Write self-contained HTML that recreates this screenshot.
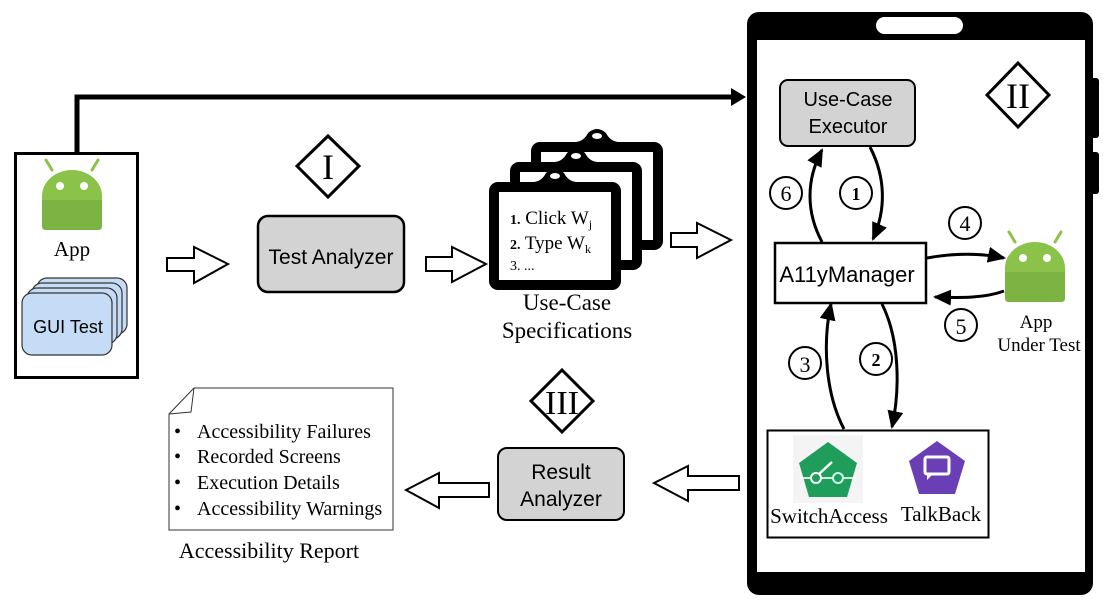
<!DOCTYPE html>
<html><head><meta charset="utf-8"><style>
html,body{margin:0;padding:0;background:#fff;}
svg{display:block;}
.sans{font-family:"Liberation Sans",sans-serif;}
.serif{font-family:"Liberation Serif",serif;}
</style></head><body>
<svg width="1105" height="609" viewBox="0 0 1105 609" xmlns="http://www.w3.org/2000/svg">
<defs>
<marker id="ah2" markerWidth="18" markerHeight="16" refX="16" refY="8" orient="auto" markerUnits="userSpaceOnUse" viewBox="0 0 18 16">
<path d="M0,0 L18,8 L0,16 z" fill="#000"/></marker>
<g id="droid">
<line x1="-20" y1="-4" x2="-26" y2="-14" stroke="#8bc34a" stroke-width="3" stroke-linecap="round"/>
<line x1="20" y1="-4" x2="26" y2="-14" stroke="#8bc34a" stroke-width="3" stroke-linecap="round"/>
<path d="M-30,22 A30,26 0 0 1 30,22 L30,52 Q30,56 26,56 L-26,56 Q-30,56 -30,52 Z" fill="#8bc34a"/>
<path d="M-30,26 L30,26 L30,52 Q30,56 26,56 L-26,56 Q-30,56 -30,52 Z" fill="#7cb342"/>
<circle cx="-12" cy="12" r="4" fill="#fff"/><circle cx="12" cy="12" r="4" fill="#fff"/>
</g>
<g id="clip">
<rect x="0" y="0" width="122" height="98" rx="4" fill="#fff" stroke="#000" stroke-width="10"/>
<path d="M40,-5 Q48,-6 52,-14 Q61,-22 70,-14 Q74,-6 82,-5 Z" fill="#000"/>
<ellipse cx="61" cy="-11" rx="5" ry="3" fill="#fff"/>
</g>
</defs>

<polyline points="77,153 77,97 733,97" fill="none" stroke="#000" stroke-width="5"/>
<path d="M731,88 L746,97 L731,106 Z" fill="#000"/>

<rect x="15.5" y="153.5" width="122" height="224" fill="#fff" stroke="#000" stroke-width="3"/>
<use href="#droid" transform="translate(72,174)"/>
<text x="72" y="256" class="serif" font-size="21" text-anchor="middle">App</text>
<rect x="37" y="278" width="90" height="56" rx="10" fill="#c6dbf5" stroke="#333" stroke-width="1.2"/>
<rect x="32" y="283" width="90" height="56" rx="10" fill="#c6dbf5" stroke="#333" stroke-width="1.2"/>
<rect x="27" y="288" width="90" height="56" rx="10" fill="#c6dbf5" stroke="#333" stroke-width="1.2"/>
<rect x="22" y="293" width="90" height="62" rx="10" fill="#c6dbf5" stroke="#333" stroke-width="1.2"/>
<text x="68" y="333" class="sans" font-size="18" text-anchor="middle">GUI Test</text>

<g fill="#fff" stroke="#000" stroke-width="2">
<path d="M167,258 L194,258 L194,247 L228,264 L194,283 L194,271 L167,271 Z"/>
<path d="M426,257 L452,257 L452,247 L486,264 L452,282 L452,271 L426,271 Z"/>
<path d="M671,233 L697,233 L697,223 L731,240 L697,258 L697,247 L671,247 Z"/>
<path d="M739,476 L688,476 L688,466 L654,483 L688,501 L688,490 L739,490 Z"/>
<path d="M489,483 L439,483 L439,473 L406,490 L439,508 L439,497 L489,497 Z"/>
</g>

<path d="M328,136 L359,166 L328,197 L297,166 Z" fill="#fff" stroke="#000" stroke-width="3"/>
<text x="328" y="179" class="serif" font-size="36" text-anchor="middle">I</text>

<rect x="258" y="216" width="146" height="76" rx="10" fill="#d3d3d3" stroke="#000" stroke-width="2.5"/>
<text x="331" y="264" class="sans" font-size="21" text-anchor="middle">Test Analyzer</text>

<use href="#clip" transform="translate(536,147)"/>
<use href="#clip" transform="translate(515,167)"/>
<use href="#clip" transform="translate(494,187)"/>
<g class="serif" font-size="19">
<text x="510" y="224"><tspan font-size="14" font-weight="bold">1.</tspan> Click W<tspan font-size="12" dy="4">j</tspan></text>
<text x="510" y="249"><tspan font-size="14" font-weight="bold">2.</tspan> Type W<tspan font-size="12" dy="4">k</tspan></text>
<text x="510" y="270" font-size="14">3.  ...</text>
</g>
<text x="567" y="310" class="serif" font-size="23" text-anchor="middle">Use-Case</text>
<text x="567" y="338" class="serif" font-size="23" text-anchor="middle">Specifications</text>

<rect x="1088" y="78" width="11" height="60" rx="3" fill="#000"/>
<rect x="1088" y="152" width="11" height="42" rx="3" fill="#000"/>
<rect x="747" y="12" width="346" height="583" rx="12" fill="#000"/>
<rect x="757" y="40" width="328" height="532" fill="#fff"/>
<rect x="876" y="17" width="87" height="17" rx="8.5" fill="#fff"/>

<rect x="780" y="80" width="135" height="66" rx="8" fill="#d3d3d3" stroke="#000" stroke-width="2"/>
<text x="848" y="106" class="sans" font-size="20" text-anchor="middle">Use-Case</text>
<text x="848" y="133" class="sans" font-size="20" text-anchor="middle">Executor</text>

<path d="M1018,63 L1049,95 L1018,127 L987,95 Z" fill="#fff" stroke="#000" stroke-width="3"/>
<text x="1018" y="108" class="serif" font-size="36" text-anchor="middle">II</text>

<rect x="775" y="243" width="151" height="60" fill="#fff" stroke="#000" stroke-width="2.5"/>
<text x="847" y="282" class="sans" font-size="22" text-anchor="middle">A11yManager</text>

<use href="#droid" transform="translate(1035,246)"/>
<text x="1036" y="328" class="serif" font-size="19" text-anchor="middle">App</text>
<text x="1039" y="351" class="serif" font-size="19" text-anchor="middle">Under Test</text>

<rect x="767.5" y="430.5" width="221" height="107" fill="#fff" stroke="#000" stroke-width="2"/>
<rect x="793" y="435" width="70" height="68" fill="#f4f4f4"/>
<path d="M828,442 L857,463 L847,497 L809,497 L799,463 Z" fill="#1e9e5a"/>
<line x1="800" y1="478" x2="856" y2="478" stroke="#fff" stroke-width="2" opacity="0.8"/>
<circle cx="816" cy="478" r="5" fill="#1e9e5a" stroke="#fff" stroke-width="2"/>
<circle cx="838" cy="478" r="5" fill="#1e9e5a" stroke="#cfe" stroke-width="2"/>
<line x1="819" y1="474" x2="832" y2="462" stroke="#fff" stroke-width="2.5"/>
<path d="M937,441 L965,461 L955,494 L919,494 L909,461 Z" fill="#6a3fb5"/>
<rect x="925" y="457" width="24" height="17" rx="2" fill="none" stroke="#fff" stroke-width="3"/>
<path d="M927,473 L927,480 L933,474 Z" fill="#fff"/>
<text x="829" y="523" class="serif" font-size="21" text-anchor="middle">SwitchAccess</text>
<text x="941" y="521" class="serif" font-size="21" text-anchor="middle">TalkBack</text>

<g fill="none" stroke="#000" stroke-width="3">
<path d="M822,242 C806,212 806,180 822,150" marker-end="url(#ah2)"/>
<path d="M870,147 C886,178 886,210 873,239" marker-end="url(#ah2)"/>
<path d="M927,258 C955,253 980,253 1004,258" marker-end="url(#ah2)"/>
<path d="M1004,291 C985,298 962,298 935,297" marker-end="url(#ah2)"/>
<path d="M844,429 C826,395 822,345 831,304" marker-end="url(#ah2)"/>
<path d="M882,304 C900,340 900,390 892,427" marker-end="url(#ah2)"/>
</g>
<g class="serif" font-size="22" text-anchor="middle">
<circle cx="786" cy="193" r="16" fill="#fff" stroke="#000" stroke-width="2"/><text x="786" y="201">6</text>
<circle cx="856" cy="193" r="16" fill="#fff" stroke="#000" stroke-width="2"/><text x="856" y="200" font-size="18" font-weight="bold">1</text>
<circle cx="965" cy="223" r="16" fill="#fff" stroke="#000" stroke-width="2"/><text x="965" y="231">4</text>
<circle cx="961" cy="325" r="16" fill="#fff" stroke="#000" stroke-width="2"/><text x="961" y="334">5</text>
<circle cx="805" cy="363" r="16" fill="#fff" stroke="#000" stroke-width="2"/><text x="805" y="372">3</text>
<circle cx="876" cy="359" r="16" fill="#fff" stroke="#000" stroke-width="2"/><text x="876" y="366" font-size="18" font-weight="bold">2</text>
</g>

<path d="M562,370 L593,401 L562,432 L531,401 Z" fill="#fff" stroke="#000" stroke-width="3"/>
<text x="562" y="414" class="serif" font-size="34" text-anchor="middle">III</text>

<rect x="498" y="448" width="126" height="72" rx="9" fill="#d3d3d3" stroke="#000" stroke-width="2"/>
<text x="561" y="479" class="sans" font-size="21" text-anchor="middle">Result</text>
<text x="561" y="506" class="sans" font-size="21" text-anchor="middle">Analyzer</text>

<path d="M194,388 L393,388 L393,530 L169,530 L169,414 Z" fill="#fff" stroke="#333" stroke-width="1"/>
<path d="M194,388 L191,412 L169,414" fill="none" stroke="#333" stroke-width="1"/>
<g class="serif" font-size="20">
<text x="174" y="438">•</text><text x="197" y="438">Accessibility Failures</text>
<text x="174" y="463">•</text><text x="197" y="463">Recorded Screens</text>
<text x="174" y="489">•</text><text x="197" y="489">Execution Details</text>
<text x="174" y="515">•</text><text x="197" y="515">Accessibility Warnings</text>
</g>
<text x="269" y="558" class="serif" font-size="22" text-anchor="middle">Accessibility Report</text>
</svg>
</body></html>
